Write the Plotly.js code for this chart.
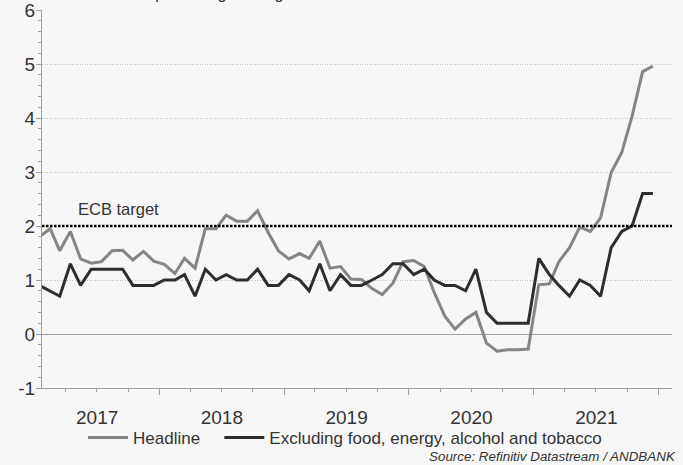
<!DOCTYPE html>
<html>
<head>
<meta charset="utf-8">
<script src="https://cdn.plot.ly/plotly-3.0.1.min.js"></script>
<style>
    html, body { margin: 0; padding: 0; background: #f7f7f7; }
    #inflationChart { width: 683px; height: 465px; }
</style>
</head>
<body>
<div id="inflationChart"></div>
<script>
// Monthly euro area inflation, Jan 2017 - Dec 2021 (% y/y)
const years = [2017, 2018, 2019, 2020, 2021];

const headline = [
    1.8, 1.95, 1.54, 1.9, 1.39, 1.31, 1.34, 1.54, 1.55, 1.37, 1.53, 1.35,
    1.29, 1.12, 1.4, 1.22, 1.95, 1.95, 2.2, 2.09, 2.09, 2.28, 1.88, 1.54,
    1.39, 1.49, 1.4, 1.72, 1.22, 1.25, 1.02, 1.01, 0.84, 0.73, 0.94, 1.34,
    1.36, 1.25, 0.77, 0.33, 0.09, 0.28, 0.4, -0.17, -0.32, -0.29, -0.29, -0.28,
    0.91, 0.93, 1.34, 1.6, 1.98, 1.9, 2.15, 2.99, 3.36, 4.03, 4.86, 4.96
];

const core = [
    0.9, 0.8, 0.7, 1.3, 0.9, 1.2, 1.2, 1.2, 1.2, 0.9, 0.9, 0.9,
    1.0, 1.0, 1.1, 0.7, 1.2, 1.0, 1.1, 1.0, 1.0, 1.2, 0.9, 0.9,
    1.1, 1.0, 0.8, 1.3, 0.8, 1.1, 0.9, 0.9, 1.0, 1.1, 1.3, 1.3,
    1.1, 1.2, 1.0, 0.9, 0.9, 0.8, 1.2, 0.4, 0.2, 0.2, 0.2, 0.2,
    1.4, 1.1, 0.9, 0.7, 1.0, 0.9, 0.7, 1.6, 1.9, 2.0, 2.6, 2.6
];

const ecbTarget = 2;

const yTicks = [-1, 0, 1, 2, 3, 4, 5, 6];
const yTickLabels = ['-1', '0', '1', '2', '3', '4', '5', '6'];

// trailing spaces widen the gap between the two legend entries
const seriesNames = ['Headline\u00a0\u00a0\u00a0', 'Excluding food, energy, alcohol and tobacco'];

// mid-month dates for each observation
const months = [];
years.forEach(y => {
    for (let m = 1; m <= 12; m++) {
        months.push(y + '-' + String(m).padStart(2, '0') + '-15');
    }
});

const FONT = 'Liberation Sans, Arial, sans-serif';
const TEXT = '#333333';

const traces = [
    {
        x: months,
        y: headline,
        type: 'scatter',
        mode: 'lines',
        name: seriesNames[0],
        line: { color: '#858585', width: 3 }
    },
    {
        x: months,
        y: core,
        type: 'scatter',
        mode: 'lines',
        name: seriesNames[1],
        line: { color: '#2e2e2e', width: 3 }
    }
];

const layout = {
    width: 683,
    height: 465,
    margin: { t: 10, r: 11, b: 76, l: 42 },
    paper_bgcolor: '#f7f7f7',
    plot_bgcolor: '#f7f7f7',
    font: { family: FONT, color: TEXT, size: 16 },
    showlegend: true,
    legend: {
        orientation: 'h',
        x: 0.481,
        xanchor: 'center',
        y: -0.129,
        yanchor: 'middle',
        itemwidth: 40,
        font: { size: 17, color: TEXT },
        bgcolor: 'rgba(0,0,0,0)'
    },
    xaxis: {
        type: 'date',
        range: ['2017-01-22', '2022-02-09'],
        tick0: '2017-01-01',
        dtick: 'M12',
        tickformat: '%Y',
        ticklabelmode: 'period',
        ticklabelstandoff: 6,
        ticks: 'outside',
        ticklen: 6,
        tickcolor: '#a0a0a0',
        tickfont: { size: 19, color: TEXT },
        showgrid: false,
        zeroline: false,
        showline: true,
        linecolor: '#a0a0a0',
        linewidth: 1,
        minor: {
            tick0: '2017-01-01',
            dtick: 'M3',
            ticks: 'outside',
            ticklen: 3,
            tickcolor: '#a0a0a0',
            showgrid: false
        }
    },
    yaxis: {
        range: [-1, 6],
        tickmode: 'array',
        tickvals: yTicks,
        ticktext: yTickLabels,
        ticklabeloverflow: 'allow',
        ticks: 'outside',
        ticklen: 5,
        ticklabelstandoff: -3,
        tickcolor: '#a0a0a0',
        tickfont: { size: 19, color: TEXT },
        showgrid: true,
        gridcolor: '#c4c4c4',
        griddash: '1px,1.5px',
        gridwidth: 1,
        zeroline: true,
        zerolinecolor: '#a0a0a0',
        zerolinewidth: 1,
        showline: true,
        linecolor: '#a0a0a0',
        linewidth: 1,
        minor: {
            dtick: 0.2,
            ticks: 'outside',
            ticklen: 3,
            tickcolor: '#a0a0a0',
            showgrid: false
        }
    },
    shapes: [
        {
            type: 'line',
            xref: 'paper',
            x0: 0,
            x1: 1,
            yref: 'y',
            y0: ecbTarget,
            y1: ecbTarget,
            line: { color: '#000000', width: 2.5, dash: '2.5px,1.5px' },
            layer: 'above'
        }
    ],
    annotations: [
        {
            text: 'ECB target',
            xref: 'paper',
            x: 0.054,
            xanchor: 'left',
            yref: 'y',
            y: 2.31,
            yanchor: 'middle',
            showarrow: false,
            font: { size: 16.5, color: TEXT }
        },
        {
            text: 'Annual percentage change',
            xref: 'paper',
            x: 0.09,
            xanchor: 'left',
            yref: 'paper',
            y: 1,
            yanchor: 'bottom',
            yshift: 6,
            showarrow: false,
            font: { size: 16, color: TEXT }
        },
        {
            text: '<i>Source: Refinitiv Datastream / ANDBANK</i>',
            xref: 'paper',
            x: 1.01,
            xanchor: 'right',
            yref: 'paper',
            y: -0.182,
            yanchor: 'middle',
            showarrow: false,
            font: { size: 13.4, color: TEXT }
        }
    ]
};

const config = { displayModeBar: false, responsive: false };

Plotly.newPlot('inflationChart', traces, layout, config);
</script>
</body>
</html>
